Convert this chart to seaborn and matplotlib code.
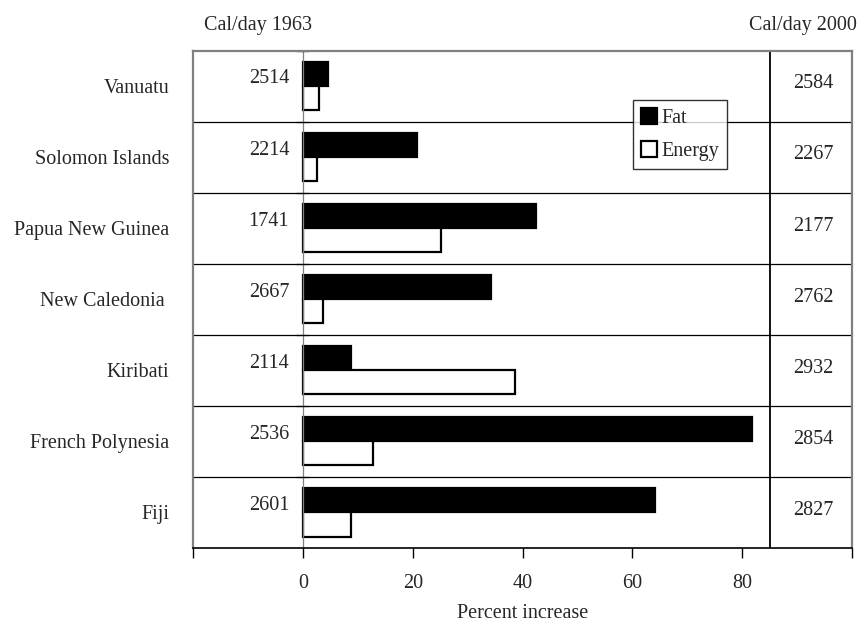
import matplotlib
matplotlib.use("Agg")
import matplotlib.pyplot as plt
import pandas as pd
import numpy as np
import seaborn as sns
from matplotlib.patches import Patch

# Data
countries = ["Vanuatu", "Solomon Islands", "Papua New Guinea", "New Caledonia ",
             "Kiribati", "French Polynesia", "Fiji"]
fat = [4.6, 20.8, 42.5, 34.2, 8.8, 81.7, 64.1]
energy = [2.9, 2.5, 25.1, 3.7, 38.7, 12.7, 8.8]
cal_1963 = [2514, 2214, 1741, 2667, 2114, 2536, 2601]
cal_2000 = [2584, 2267, 2177, 2762, 2932, 2854, 2827]

df = pd.DataFrame({"Country": countries * 2,
                   "Series": ["Fat"] * 7 + ["Energy"] * 7,
                   "Value": fat + energy})

sns.set_theme(style="white")
plt.rcParams["font.family"] = ["Liberation Serif", "DejaVu Serif"]
plt.rcParams["font.size"] = 14.5

fig = plt.figure(figsize=(8.61, 6.24), dpi=100)
ax = fig.add_axes([0.2242, 0.122, 0.7654, 0.797])

sns.barplot(data=df, x="Value", y="Country", hue="Series", orient="h",
            hue_order=["Fat", "Energy"],
            palette={"Fat": "black", "Energy": "white"},
            edgecolor="black", linewidth=1.6, width=0.68, ax=ax, legend=False)

ax.set_xlim(-20, 100)
ax.set_ylim(6.5, -0.5)

# row separators and the 2000 column divider
ax.hlines(np.arange(0.5, 6, 1), -20, 100, color="black", lw=0.9)
ax.axvline(85, color="black", lw=1.3)
ax.axvline(0, color="#808080", lw=0.9)
ax.hlines(np.arange(-0.5, 6, 1), -1.2, 1.2, color="black", lw=0.9)

# calorie labels
for i, (a, b) in enumerate(zip(cal_1963, cal_2000)):
    ax.text(-2.5, i - 0.1, str(a), ha="right", va="center", fontsize=14.5)
    ax.text(93, i - 0.03, str(b), ha="center", va="center", fontsize=14.5)

trans = ax.get_xaxis_transform()
ax.text(-8.2, 1.05, "Cal/day 1963", transform=trans, ha="center", va="center",
        fontsize=14.5)
ax.text(91, 1.05, "Cal/day 2000", transform=trans, ha="center", va="center",
        fontsize=14.5)

ax.set_xticks(range(-20, 101, 20))
ax.set_xticklabels(["", "0", "20", "40", "60", "80", ""])
ax.tick_params(axis="x", direction="out", length=7, width=1, color="black",
               pad=12, labelsize=14.5, bottom=True)
ax.tick_params(axis="y", length=0, pad=17, labelsize=14.5)
ax.set_xlabel("Percent increase", fontsize=14.5, labelpad=8)
ax.set_ylabel("")

for side in ["left", "top", "right"]:
    ax.spines[side].set_color("#808080")
    ax.spines[side].set_linewidth(1.6)
ax.spines["bottom"].set_color("black")
ax.spines["bottom"].set_linewidth(1.2)

handles = [Patch(facecolor="black", edgecolor="black", lw=1.6, label="Fat"),
           Patch(facecolor="white", edgecolor="black", lw=1.6, label="Energy")]
leg = ax.legend(handles=handles, loc="upper left", bbox_to_anchor=(0.668, 0.90),
                frameon=True, fancybox=False, fontsize=14.5, handlelength=0.8,
                handleheight=0.8, handletextpad=0.2, borderpad=0.4,
                labelspacing=0.65, borderaxespad=0)
leg.get_frame().set_edgecolor("black")
leg.get_frame().set_linewidth(1.0)

fig.savefig("out.png", dpi=100)
